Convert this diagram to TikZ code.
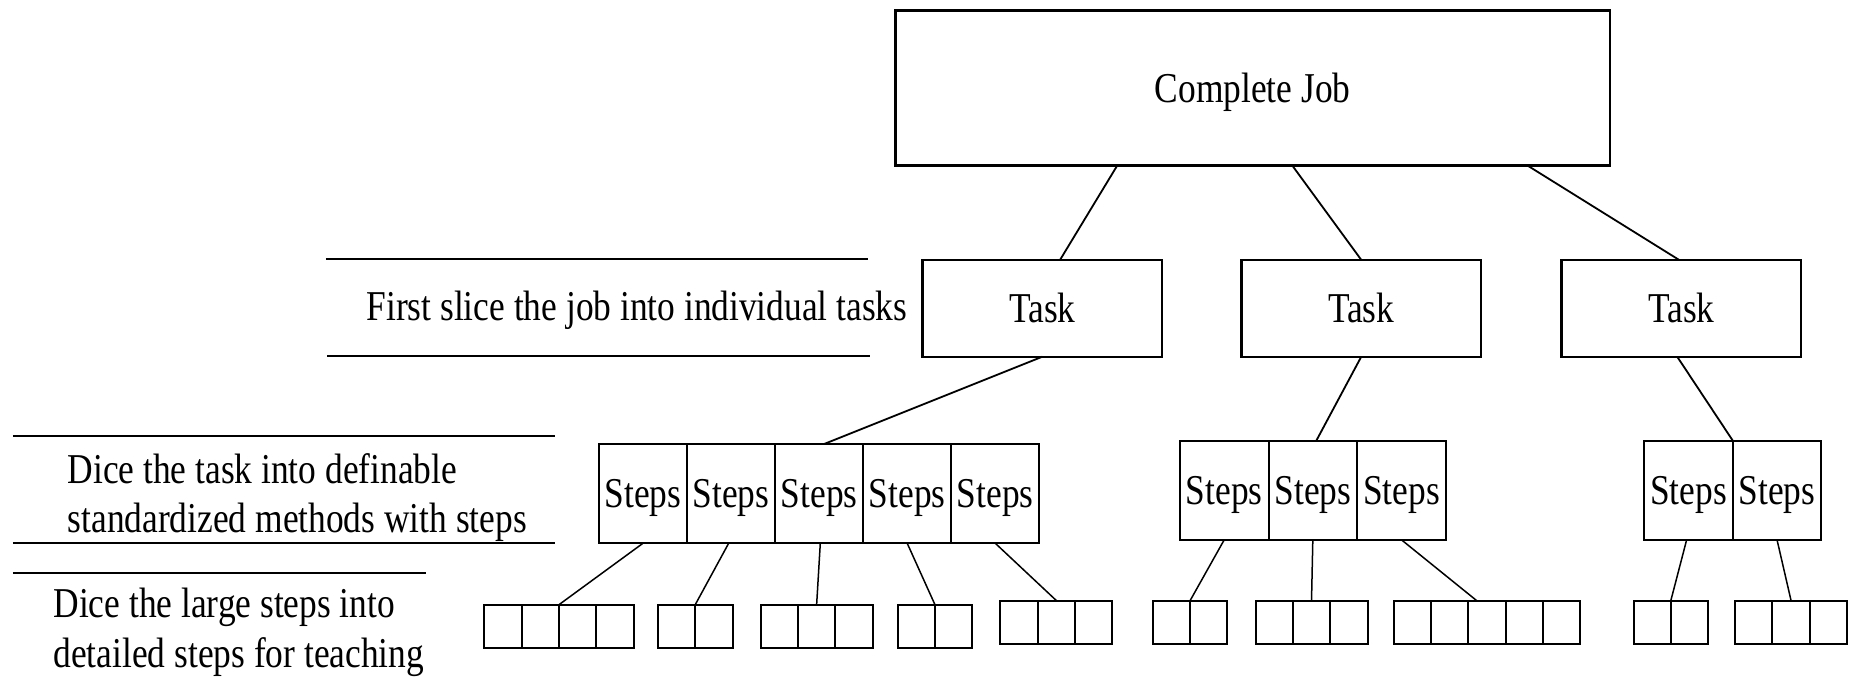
\documentclass[tikz,border=0pt]{standalone}
\usepackage{fontspec}
\setmainfont[FakeStretch=0.833]{Liberation Serif}
\usetikzlibrary{positioning,calc}
\newdimen\pxu
\pxu=0.5906pt
\newcommand\lbl{\fontsize{21.25pt}{24.8pt}\selectfont}
% a row of equal cells, left edge at (#3,#4), named #1-1 ... #1-#2
\newcommand\cellrow[6]{%
  \node[#6, anchor=west] (#1-1) at (#3,#4) {#5};
  \foreach \k [remember=\k as \prev (initially 1)] in {2,...,#2}
    {\node[#6, right=0pt of #1-\prev] (#1-\k) {#5};}%
}
\tikzset{
  box/.style={draw, line width=1.2pt, inner sep=0pt, outer sep=0pt, font=\lbl,
              text height=14.07pt, text depth=0pt},
  stepcell/.style={draw, line width=1pt, inner sep=0pt, outer sep=0pt, font=\lbl,
              minimum width=75\pxu, minimum height=84\pxu, text height=14.07pt, text depth=0pt},
  widecell/.style={stepcell, minimum width=74.6\pxu},
  subcell/.style={draw, line width=1pt, inner sep=0pt, outer sep=0pt,
              minimum width=31.6\pxu, minimum height=37\pxu},
  link/.style={line width=0.9pt},
  sublink/.style={line width=0.75pt},
  rule/.style={line width=1pt},
  caption/.style={font=\lbl, anchor=base west, inner sep=0pt},
}
\begin{document}
\begin{tikzpicture}[x=\pxu, y=-\pxu]
  \fill[white] (0,0) rectangle (1568,572.35);
  \useasboundingbox (0,0) rectangle (1568,572.35);

  % top level and tasks
  \node[box, minimum width=605\pxu, minimum height=131\pxu] (job) at (1060.5,74.5) {Complete Job};
  \node[box, minimum width=203\pxu, minimum height=82\pxu] (task1) at (882.5,261) {Task};
  \node[box, minimum width=203\pxu, minimum height=82\pxu] (task2) at (1152.5,261) {Task};
  \node[box, minimum width=203\pxu, minimum height=82\pxu] (task3) at (1423.5,261) {Task};

  % methods with steps
  \cellrow{s1}{5}{507}{418}{Steps}{widecell}
  \cellrow{s2}{3}{999}{415}{Steps}{stepcell}
  \cellrow{s3}{2}{1392}{415}{Steps}{stepcell}

  % detailed steps
  \cellrow{a}{4}{410}{530.5}{}{subcell}
  \cellrow{b}{2}{557}{530.5}{}{subcell}
  \cellrow{c}{3}{644}{530.5}{}{subcell}
  \cellrow{d}{2}{760}{530.5}{}{subcell}
  \cellrow{e}{3}{847}{527}{}{subcell}
  \cellrow{f}{2}{976}{527}{}{subcell}
  \cellrow{g}{3}{1063}{527}{}{subcell}
  \cellrow{h}{5}{1180}{527}{}{subcell}
  \cellrow{i}{2}{1383}{527}{}{subcell}
  \cellrow{j}{3}{1469}{527}{}{subcell}

  % job to tasks
  \draw[link] ($(job.south)+(-114.5,0)$) -- ($(task1.north)+(15,0)$);
  \draw[link] ($(job.south)+(33.5,0)$) -- (task2.north);
  \draw[link] ($(job.south)+(232.5,0)$) -- ($(task3.north)+(-2,0)$);

  % tasks to steps
  \draw[link] (task1.south) -- ($(s1-3.north)+(4,0)$);
  \draw[link] (task2.south) -- ($(s2-2.north)+(3,0)$);
  \draw[link] ($(task3.south)+(-3.5,0)$) -- (s3-1.north east);

  % steps to detailed steps
  \draw[sublink] (s1-1.south) -- (a-2.north east);
  \draw[sublink] ($(s1-2.south)+(-2,0)$) -- (b-1.north east);
  \draw[sublink] ($(s1-3.south)+(1,0)$) -- (c-2.north);
  \draw[sublink] (s1-4.south) -- (d-1.north east);
  \draw[sublink] (s1-5.south) -- (e-2.north);
  \draw[sublink] (s2-1.south) -- (f-1.north east);
  \draw[sublink] (s2-2.south) -- (g-2.north);
  \draw[sublink] (s2-3.south) -- ($(h-2.north east)+(7,0)$);
  \draw[sublink] ($(s3-1.south)+(-1.5,0)$) -- (i-1.north east);
  \draw[sublink] (s3-2.south) -- (j-2.north);

  % captions with their rules
  \draw[rule] (276,219.5) -- (735,219.5);
  \draw[rule] (277,301) -- (737,301);
  \node[caption] (cap1) at (310,271) {First slice the job into individual tasks};

  \draw[rule] (11,369.5) -- (470,369.5);
  \draw[rule] (11,459.5) -- (470,459.5);
  \node[caption] (cap2a) at (57,409) {Dice the task into definable};
  \node[caption] (cap2b) at (57,451) {standardized methods with steps};

  \draw[rule] (11,485.5) -- (361,485.5);
  \node[caption] (cap3a) at (45,523) {Dice the large steps into};
  \node[caption] (cap3b) at (45,565) {detailed steps for teaching};
\end{tikzpicture}
\end{document}
